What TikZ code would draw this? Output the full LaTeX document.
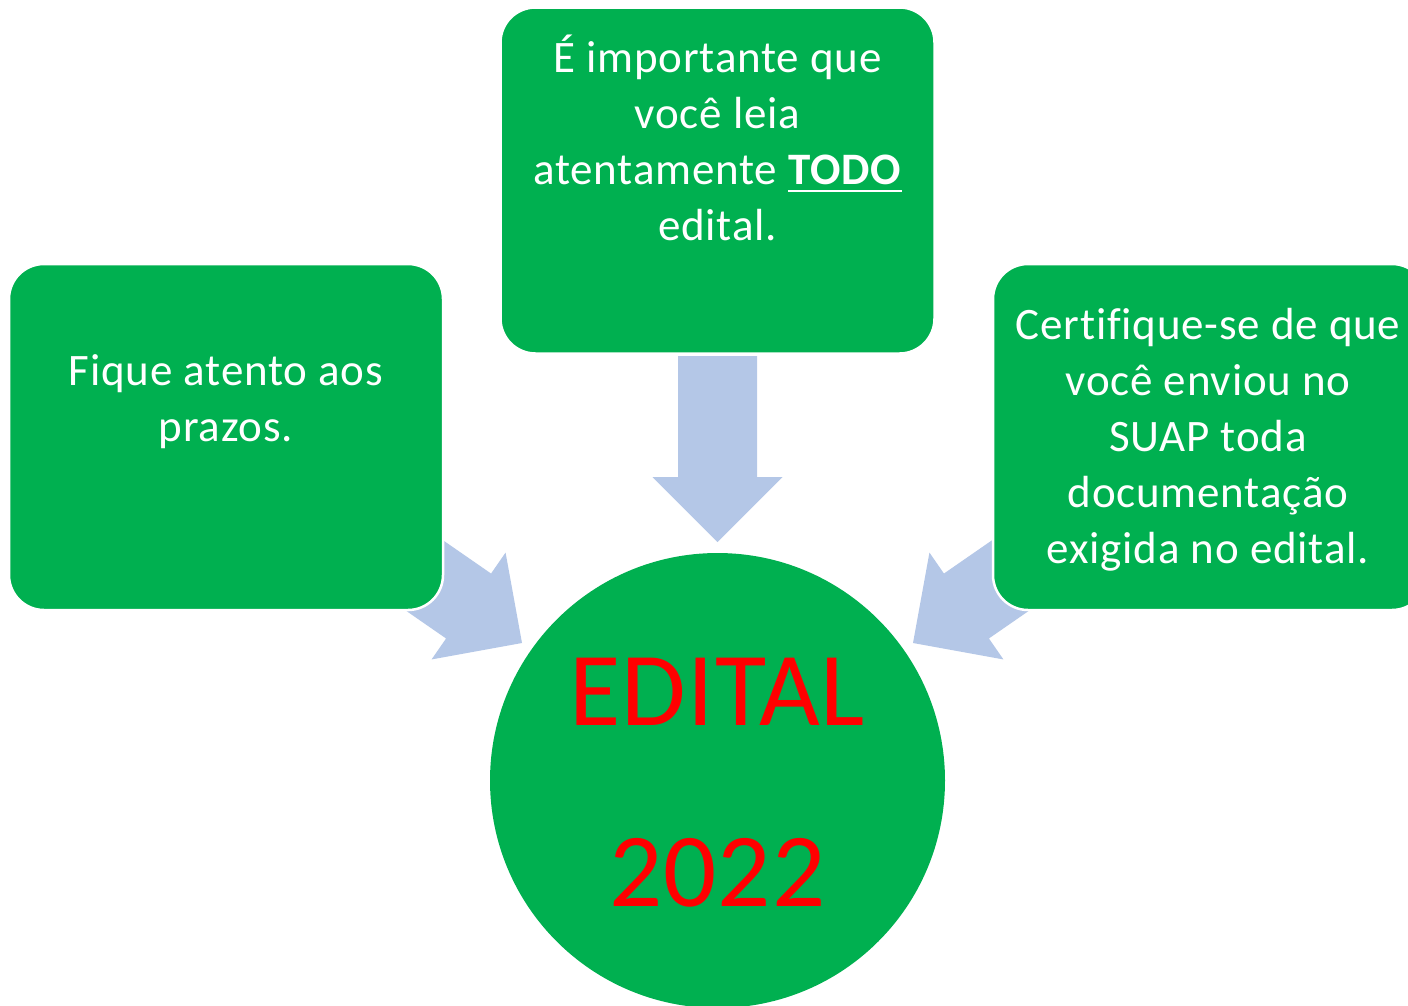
\documentclass[tikz,border=0pt]{standalone}
\usepackage{fontspec}
\setmainfont{Carlito}[Ligatures=NoCommon]
\newfontfamily\cardfont{Carlito}[LetterSpace=1.8,Ligatures=NoCommon]
\newfontfamily\hubfont{Carlito}[LetterSpace=1,Ligatures=NoCommon]
\definecolor{boxgreen}{RGB}{0,176,80}
\definecolor{arrowblue}{RGB}{180,199,231}
\newcommand\myul[1]{\setbox0\hbox{#1}\rlap{\rule[-8pt]{\wd0}{2.2pt}}\box0}
\begin{document}
\begin{tikzpicture}[x=1pt,y=-1pt,
  card/.style={rectangle,rounded corners=35pt,fill=boxgreen,draw=white,line width=2.5pt,inner sep=0pt,minimum width=434pt,minimum height=346pt},
  hub/.style={circle,fill=boxgreen,inner sep=0pt,minimum size=455pt},
  cardtext/.style={anchor=base,inner sep=0pt,text=white,font=\cardfont\fontsize{45}{56}\selectfont},
  hubtext/.style={anchor=base,inner sep=0pt,text=red,font=\hubfont\fontsize{105}{120}\selectfont},
  blockarrow/.style={fill=arrowblue}]
\useasboundingbox (0,0) rectangle (1408,1005);
\clip (0,0) rectangle (1408,1005);
% arrow tips
\coordinate (tipT) at (717.5,542);
\coordinate (tipL) at (522,643);
\coordinate (tipR) at (913,643);
% block arrows (drawn below the boxes)
\foreach \t/\r in {tipT/-90,tipL/-34.7,tipR/-145.3}{
  \fill[blockarrow,shift={(\t)},rotate=\r] (0,0) -- (-65,65) -- (-65,39.5) -- (-186,39.5) -- (-186,-39.5) -- (-65,-39.5) -- (-65,-65) -- cycle;
}
% boxes
\node[card] (left) at (226,437) {};
\node[card] (top) at (717.5,180.5) {};
\node[card] (right) at (1210,437) {};
\node[hub] (hub) at (717.5,780.5) {};
% texts
\node[cardtext] (lefttext) at (226,385) {\begin{tabular}[t]{@{}c@{}}Fique atento aos\\prazos.\end{tabular}};
\node[cardtext] (toptext) at (717.5,72) {\begin{tabular}[t]{@{}c@{}}É importante que\\você leia\\atentamente \myul{\textbf{TODO}}\\edital.\end{tabular}};
\node[cardtext] (righttext) at (1208,339) {\begin{tabular}[t]{@{}c@{}}Certifique-se de que\\você enviou no\\SUAP toda\\documentação\\exigida no edital.\end{tabular}};
\node[hubtext] (edital) at (717.5,725) {EDITAL};
\node[hubtext] (year) at (717.5,906) {2022};
\end{tikzpicture}
\end{document}
